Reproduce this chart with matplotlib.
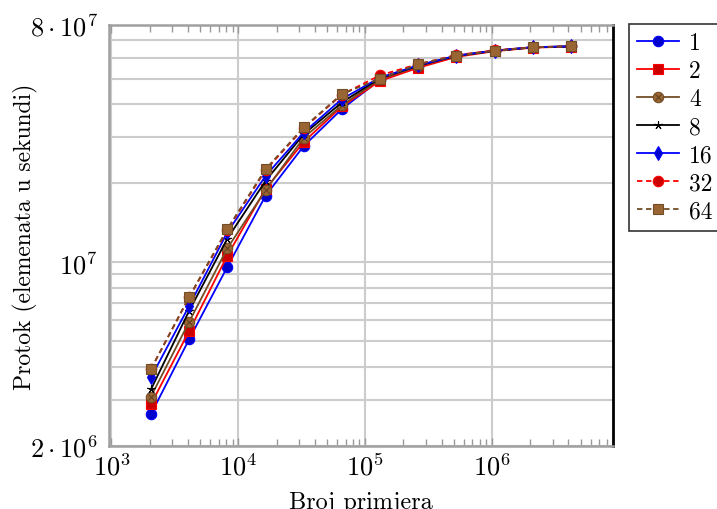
import matplotlib
matplotlib.use('Agg')
import matplotlib.pyplot as plt
import matplotlib.ticker as ticker
from matplotlib.legend_handler import HandlerTuple
import numpy as np

plt.rcParams['font.family'] = 'serif'
plt.rcParams['font.serif'] = ['cmr10', 'DejaVu Serif']
plt.rcParams['mathtext.fontset'] = 'cm'
plt.rcParams['axes.formatter.use_mathtext'] = True

# broj primjera (x) i protok u milijunima elemenata/s za svaki broj dretvi
sizes = [2048, 4096, 8192, 16384, 32768, 65536, 131072, 262144,
         524288, 1048576, 2097152, 4194304]
labels = ['1', '2', '4', '8', '16', '32', '64']
t1 = [2.64, 5.09, 9.6, 17.9, 27.7, 38.3, 49.5, 56.0, 61.0, 63.8, 65.8, 66.3]
t2 = [2.88, 5.47, 10.6, 19.0, 28.7, 39.2, 49.0, 55.0, 60.5, 63.6, 65.6, 66.2]
t4 = [3.08, 5.93, 11.3, 18.8, 29.8, 39.6, 49.8, 55.8, 61.0, 63.8, 65.8, 66.3]
t8 = [3.28, 6.53, 12.3, 20.4, 30.7, 40.6, 50.2, 56.0, 61.1, 63.8, 65.8, 66.3]
t16 = [3.64, 6.82, 13.0, 21.3, 31.2, 41.8, 50.5, 56.2, 61.2, 63.9, 65.9, 66.3]
t32 = [3.92, 7.35, 13.3, 22.4, 32.4, 43.5, 51.5, 56.8, 61.5, 64.0, 65.9, 66.4]
t64 = [3.92, 7.38, 13.4, 22.6, 32.6, 43.7, 50.0, 56.8, 61.2, 63.8, 65.8, 66.3]
series = [t1, t2, t4, t8, t16, t32, t64]

yticks = [2e6, 1e7, 8e7]
ytick_labels = [r'$2\cdot10^{6}$', r'$10^{7}$', r'$8\cdot10^{7}$']

brown = '#734d26'
brown_fill = '#996633'
styles = [
    dict(color='blue', marker='o', mfc='#0000cc', ls='-'),
    dict(color='red', marker='s', mfc='#cc0000', ls='-'),
    dict(color=brown, marker='o', mfc=brown_fill, ls='-'),
    dict(color='black', marker=(5, 2, 0), mfc='black', ls='-'),
    dict(color='blue', marker='d', mfc='#0000cc', ls='-'),
    dict(color='red', marker='o', mfc='#cc0000', ls=(0, (3, 2))),
    dict(color=brown, marker='s', mfc=brown_fill, ls=(0, (3, 2))),
]

fig = plt.figure(figsize=(7.17, 5.10), dpi=100)
ax = fig.add_axes([0.152, 0.124, 0.703, 0.825])

x = np.array(sizes)
handles = []
for i, (vals, st) in enumerate(zip(series, styles)):
    y = np.array(vals) * 1e6
    ms = 6 if st['marker'] == (5, 2, 0) else 7.5
    line, = ax.plot(x, y, color=st['color'], ls=st['ls'], lw=1.3,
                    marker=st['marker'], ms=ms, mfc=st['mfc'],
                    mec=st['color'], mew=0.8)
    if i == 2:
        # otimes* marker: krug s krizicem
        cross, = ax.plot(x, y, ls='none', marker='x', ms=4.8,
                         color='#5a3a1c', mew=0.7)
        handles.append((line, cross))
    else:
        handles.append(line)

ax.set_xscale('log')
ax.set_yscale('log')
lo, hi = np.log10(sizes[0]), np.log10(sizes[-1])
pad = 0.1 * (hi - lo)
ax.set_xlim(10 ** (lo - pad), 10 ** (hi + pad))
ax.set_ylim(2e6, 8e7)

ax.xaxis.set_major_locator(ticker.LogLocator(base=10, numticks=10))
ax.xaxis.set_minor_locator(ticker.LogLocator(base=10, subs=np.arange(2, 10), numticks=20))
ax.xaxis.set_minor_formatter(ticker.NullFormatter())

ax.yaxis.set_major_locator(ticker.FixedLocator(yticks))
ax.yaxis.set_major_formatter(ticker.FixedFormatter(ytick_labels))
yminor = [k * 10 ** e for e in (6, 7) for k in range(1, 10)]
yminor = [v for v in yminor if 2e6 < v < 8e7 and v not in yticks]
ax.yaxis.set_minor_locator(ticker.FixedLocator(yminor))
ax.yaxis.set_minor_formatter(ticker.NullFormatter())

ax.tick_params(axis='x', which='both', direction='in', top=True, bottom=True,
               color='#999999', labelsize=19, pad=5)
ax.tick_params(axis='x', which='major', length=6, width=1)
ax.tick_params(axis='x', which='minor', length=5, width=1)
ax.tick_params(axis='y', which='both', direction='in', length=0, labelsize=19, pad=8)

ax.grid(True, axis='x', which='major', color='#cccccc', lw=1.5)
ax.grid(True, axis='y', which='both', color='#cccccc', lw=1.5)
ax.set_axisbelow(True)

for s in ('left', 'top', 'bottom'):
    ax.spines[s].set_color('#a0a0a0')
    ax.spines[s].set_linewidth(1.8)
ax.spines['right'].set_color('black')
ax.spines['right'].set_linewidth(2)

ax.set_xlabel('Broj primjera', fontsize=17.5, labelpad=8)
ax.set_ylabel('Protok (elemenata u sekundi)', fontsize=17, va='center')
ax.yaxis.set_label_coords(-0.165, 0.5)

leg = fig.legend(handles, labels, loc='upper left',
                 bbox_to_anchor=(629 / 717, 1 - 25 / 510),
                 handler_map={tuple: HandlerTuple(ndivide=1)},
                 fontsize=17, frameon=True, fancybox=False,
                 handlelength=1.75, handletextpad=0.45, labelspacing=0.25,
                 borderpad=0.35, borderaxespad=0)
leg.get_frame().set_edgecolor('black')
leg.get_frame().set_linewidth(1.2)

fig.savefig('out.png', dpi=100)
